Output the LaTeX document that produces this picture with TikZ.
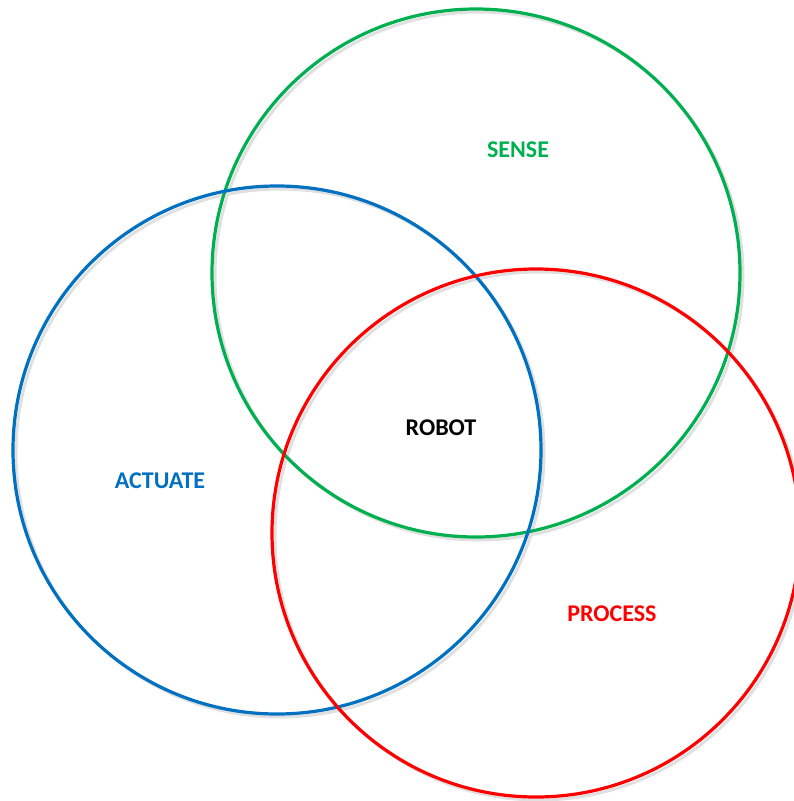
\documentclass[tikz,border=0pt]{standalone}
\usepackage{fontspec}
\setmainfont{Carlito}
\usepackage{xcolor}
\usetikzlibrary{positioning}
\definecolor{sensegreen}{RGB}{0,176,80}
\definecolor{actblue}{RGB}{0,112,192}
\definecolor{procred}{RGB}{255,0,0}
\def\lbl{\fontsize{24}{28}\selectfont\bfseries}

\begin{document}
\begin{tikzpicture}[x=1pt,y=-1pt]
\useasboundingbox (0,0) rectangle (794,801);
% shadows
\draw[black!12,line width=3pt] (479,276) circle (264);
\draw[black!12,line width=3pt] (280,453) circle (264);
\draw[black!12,line width=3pt] (539,536) circle (264);
% circles
\draw[sensegreen,line width=3.2pt] (476,273) circle (264);
\draw[actblue,line width=3.2pt] (277,450) circle (264);
\draw[procred,line width=3.2pt] (536,533) circle (264);
% labels
\node[sensegreen] (sense) at (518,150) {\lbl SENSE};
\node[black] (robot) at (441,428) {\lbl ROBOT};
\node[actblue] (actuate) at (160,481) {\lbl ACTUATE};
\node[procred] (process) at (612,614) {\lbl PROCESS};
\end{tikzpicture}
\end{document}
